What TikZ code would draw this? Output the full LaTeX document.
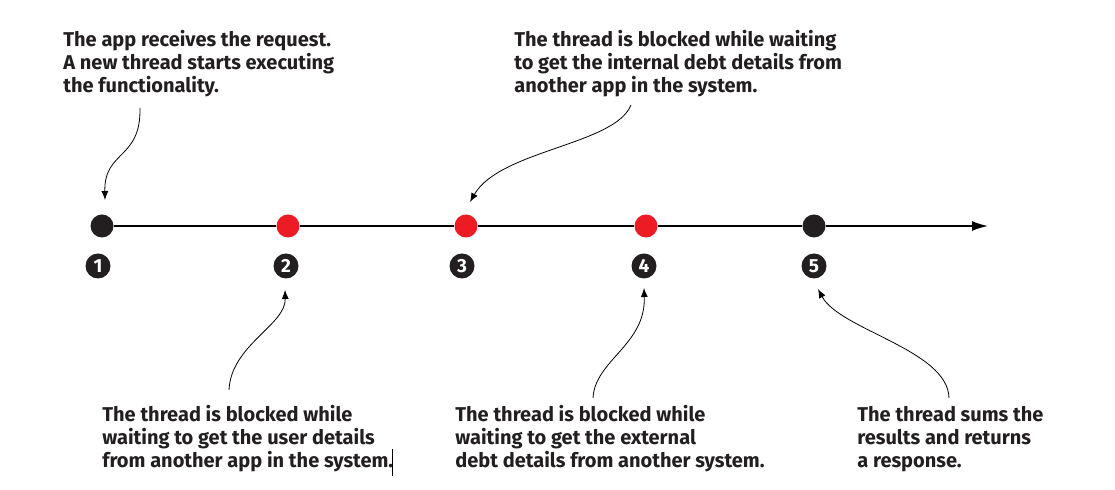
\documentclass[tikz,border=0pt]{standalone}
\usepackage{fontspec}
\setmainfont{Fira Sans}
\usetikzlibrary{arrows.meta}
\definecolor{rosso}{HTML}{ED1C24}
\definecolor{nero}{HTML}{231F20}
\tikzset{
  punto/.style={circle,inner sep=0pt,minimum size=11.5pt},
  numero/.style={circle,fill=nero,text=white,inner sep=0pt,minimum size=12.5pt,font=\bfseries\fontsize{9.5}{10}\selectfont},
  nota/.style={anchor=base west,align=left,inner sep=0pt,text=nero,font=\bfseries\fontsize{10}{11.5}\selectfont},
  freccia/.style={-{Latex[length=4.5pt,width=3.5pt]},line width=0.4pt}
}
\begin{document}
\begin{tikzpicture}[x=0.5pt,y=-0.5pt]
    \useasboundingbox (0,0) rectangle (1115,490);
    \node[punto,fill=nero] (d1) at (102,226) {}; %inizio
    \node[punto,fill=rosso] (d2) at (288,226) {};
    \node[punto,fill=rosso] (d3) at (466,226) {};
    \node[punto,fill=rosso] (d4) at (646,226) {};
    \node[punto,fill=nero] (d5) at (814,226) {}; %risposta
    \coordinate (fine) at (988,226);
    \draw[line width=0.8pt] (d1) -- (d2) (d2) -- (d3) (d3) -- (d4) (d4) -- (d5);
    \draw[line width=0.8pt,-{Latex[length=8pt,width=5pt]}] (d5) -- (fine); %asse dei tempi
    \node[numero] (n1) at (98,266) {1};
    \node[numero] (n2) at (286,266) {2};
    \node[numero] (n3) at (462,266) {3};
    \node[numero] (n4) at (644,266) {4};
    \node[numero] (n5) at (814,266) {5};
    \node[nota] (t1) at (63,93) {The app receives the request.\\A new thread starts executing\\the functionality.};
    \node[nota] (t3) at (514,93) {The thread is blocked while waiting\\to get the internal debt details from\\another app in the system.};
    \node[nota] (t2) at (102,468) {The thread is blocked while\\waiting to get the user details\\from another app in the system.};
    \node[nota] (t4) at (455,468) {The thread is blocked while\\waiting to get the external\\debt details from another system.};
    \node[nota] (t5) at (857,468) {The thread sums the\\results and returns\\a response.};
    \draw[line width=0.4pt] (392,449) -- (392,476); %cursore
    \coordinate (a1) at (140,108); \coordinate (b1) at (105,200);
    \coordinate (a3) at (631,105); \coordinate (b3) at (470,202);
    \coordinate (a2) at (229,390); \coordinate (b2) at (285,290);
    \coordinate (a4) at (593,398); \coordinate (b4) at (644,288);
    \coordinate (a5) at (949,398); \coordinate (b5) at (818,289);
    \draw[freccia] (a1) .. controls (141,160) and (104,150) .. (b1);
    \draw[freccia] (a3) .. controls (615,145) and (500,150) .. (b3);
    \draw[freccia] (a2) .. controls (231,345) and (286,325) .. (b2);
    \draw[freccia] (a4) .. controls (595,360) and (646,345) .. (b4);
    \draw[freccia] (a5) .. controls (948,350) and (840,330) .. (b5);
  \end{tikzpicture}
\end{document}
